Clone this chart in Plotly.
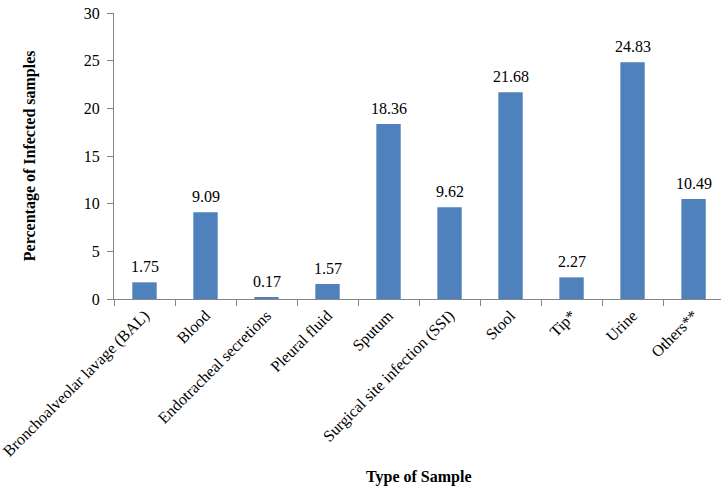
import plotly.graph_objects as go

samples = ['Bronchoalveolar lavage (BAL)', 'Blood', 'Endotracheal secretions', 'Pleural fluid',
           'Sputum', 'Surgical site infection (SSI)', 'Stool', 'Tip*', 'Urine', 'Others**']
percent = [1.75, 9.09, 0.17, 1.57, 18.36, 9.62, 21.68, 2.27, 24.83, 10.49]
labels = ['%.2f' % v for v in percent]

serif = 'Liberation Serif, Times New Roman, serif'

fig = go.Figure()
fig.add_trace(go.Bar(x=samples, y=percent, marker_color='#4F81BD', marker_line_width=0))

# value labels above the bars
for s, v, t in zip(samples, percent, labels):
    fig.add_annotation(x=s, y=v, text=t, showarrow=False, yanchor='bottom', yshift=5,
                       font=dict(size=16, color='black'))

fig.update_xaxes(
    automargin=False, range=[-0.5, 9.45],
    showline=True, linecolor='#868686', linewidth=1,
    ticks='outside', tickson='boundaries', ticklen=6, tickcolor='#868686',
    tickangle=-45, tickfont=dict(size=16, color='black')
)
fig.update_yaxes(
    automargin=False,
    range=[0, 30], dtick=5, showgrid=False, zeroline=False,
    showline=True, linecolor='#868686', linewidth=1,
    ticks='outside', ticklen=6, tickcolor='#868686', ticklabelstandoff=4,
    ticklabeloverflow='allow', tickfont=dict(size=16, color='black')
)

fig.add_annotation(text='<b>Type of Sample</b>', xref='paper', yref='paper',
                   x=0.502, y=-0.622, xanchor='center', yanchor='middle', showarrow=False,
                   font=dict(size=16, color='black'))
fig.add_annotation(text='<b>Percentage of Infected samples</b>', xref='paper', yref='paper',
                   x=-0.138, y=0.5, xanchor='center', yanchor='middle', textangle=-90,
                   showarrow=False, font=dict(size=16, color='black'))

fig.update_layout(
    width=721, height=495,
    margin=dict(l=114, r=0, t=13, b=196),
    bargap=0.6,
    plot_bgcolor='white', paper_bgcolor='white',
    font=dict(family=serif, color='black'),
    showlegend=False
)

# drop the default 8px page margin so the chart sits at the window corner
fig.write_html('out.html', config={'displayModeBar': False},
               post_script="document.body.style.margin='0';")
